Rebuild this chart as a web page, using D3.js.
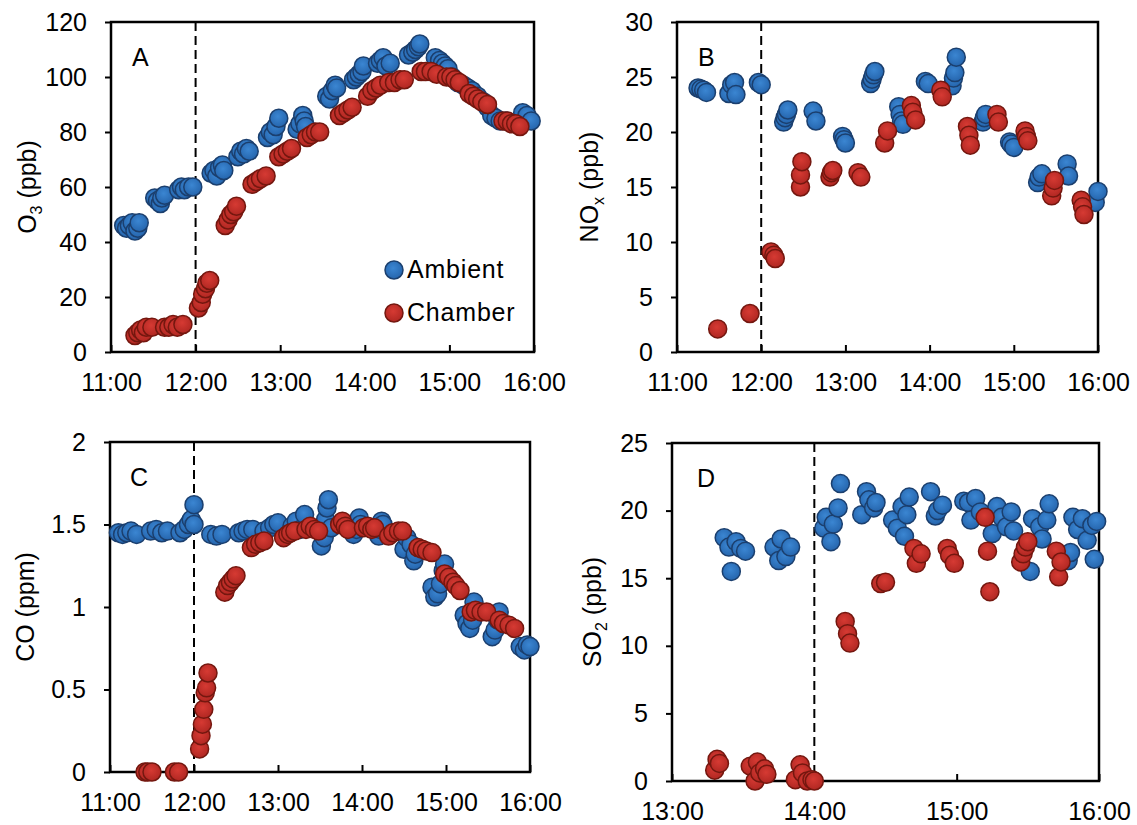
<!DOCTYPE html>
<html>
<head>
<meta charset="utf-8">
<script src="https://cdn.jsdelivr.net/npm/d3@7.9.0/dist/d3.min.js"></script>
<style>
  body { margin: 0; background: #fff; }
  svg { display: block; font-family: "Liberation Sans", Arial, sans-serif; }
</style>
</head>
<body>
<svg id="chart" width="1137" height="825"></svg>
<script>
// ---- data: [time, value] ----
const o3Ambient = [
  ["11:09",46],["11:11",45],["11:13",46],["11:15",47],["11:17",44],["11:19",45],["11:20",47],
  ["11:31",56],["11:33",55],["11:35",54],["11:36",56],["11:38",57],
  ["11:48",59],["11:50",60],["11:52",59],["11:55",60],["11:58",60],
  ["12:11",65],["12:13",66],["12:15",64],["12:17",67],["12:19",68],["12:20",66],
  ["12:30",71],["12:32",73],["12:34",72],["12:36",74],["12:38",73],
  ["12:51",78],["12:53",80],["12:55",79],["12:57",82],["12:59",85],
  ["13:12",81],["13:14",83],["13:16",86],["13:17",84],["13:18",82],
  ["13:33",93],["13:35",92],["13:37",95],["13:39",97],["13:40",96],
  ["13:52",99],["13:54",100],["13:56",101],["13:58",102],["13:59",104],
  ["14:09",105],["14:11",106],["14:13",107],["14:15",104],["14:18",105],
  ["14:31",108],["14:34",109],["14:36",110],["14:38",111],["14:39",112],
  ["14:50",107],["14:53",106],["14:55",105],["14:57",104],["14:59",103],
  ["15:02",100],["15:06",98],["15:10",97],["15:13",96],["15:16",95],["15:20",93],
  ["15:24",91],["15:27",89],["15:30",86],["15:33",85],["15:36",84],["15:40",84],
  ["15:52",87],["15:55",86],["15:58",84]
];
const o3Chamber = [
  ["11:17",6],["11:19",7],["11:21",8],["11:23",7],["11:25",9],["11:29",9],
  ["11:38",9],["11:41",9],["11:44",10],["11:47",9],["11:51",10],
  ["12:02",16],["12:04",18],["12:05",21],["12:07",23],["12:08",25],["12:10",26],
  ["12:21",46],["12:23",48],["12:25",50],["12:27",51],["12:29",53],
  ["12:40",61],["12:43",62],["12:46",63],["12:50",64],
  ["12:59",71],["13:02",72],["13:05",73],["13:08",74],
  ["13:19",78],["13:22",79],["13:25",80],["13:28",80],
  ["13:42",86],["13:45",87],["13:48",88],["13:51",89],
  ["14:02",93],["14:05",95],["14:08",96],["14:11",97],
  ["14:17",98],["14:21",98],["14:25",99],["14:28",99],
  ["14:40",102],["14:43",102],["14:47",102],["14:51",101],
  ["14:58",100],["15:01",100],["15:04",99],["15:07",98],
  ["15:14",94],["15:17",93],["15:20",92],["15:23",91],["15:27",90],
  ["15:38",84],["15:41",84],["15:44",83],["15:47",83],["15:50",82]
];
const noxAmbient = [
  ["11:15",24.0],["11:17",23.9],["11:19",23.8],["11:21",23.6],
  ["11:37",23.5],["11:39",24.3],["11:41",24.5],["11:42",23.4],
  ["11:58",24.5],["12:00",24.3],
  ["12:16",20.9],["12:17",21.3],["12:18",21.6],["12:19",22.0],
  ["12:37",21.9],["12:39",21.0],
  ["12:58",19.6],["12:59",19.3],["13:00",19.0],
  ["13:18",24.4],["13:19",24.8],["13:20",25.2],["13:21",25.5],
  ["13:38",22.3],["13:39",21.6],["13:40",21.0],["13:41",20.7],
  ["13:57",24.6],["13:59",24.4],
  ["14:16",24.2],["14:17",24.9],["14:18",25.4],["14:19",26.8],
  ["14:38",20.9],["14:39",21.3],["14:40",21.6],
  ["14:57",19.1],["14:58",18.9],["15:00",18.6],
  ["15:17",15.4],["15:18",15.9],["15:20",16.2],
  ["15:38",17.1],["15:39",16.0],
  ["15:58",13.6],["16:00",14.6]
];
const noxChamber = [
  ["11:29",2.1],["11:52",3.5],
  ["12:07",9.1],["12:09",8.8],["12:10",8.5],
  ["12:28",15.0],["12:28",16.1],["12:29",17.3],
  ["12:49",15.9],["12:50",16.3],["12:51",16.5],
  ["13:09",16.3],["13:11",15.9],
  ["13:28",19.0],["13:30",20.1],
  ["13:47",22.4],["13:48",21.8],["13:50",21.1],
  ["14:08",23.8],["14:09",23.2],
  ["14:27",20.5],["14:28",19.7],["14:29",18.8],
  ["14:48",21.6],["14:49",20.9],
  ["15:08",20.1],["15:09",19.6],["15:10",19.2],
  ["15:27",14.2],["15:28",14.9],["15:29",15.6],
  ["15:48",13.8],["15:49",13.2],["15:50",12.5]
];
const coAmbient = [
  ["11:06",1.45],["11:09",1.44],["11:12",1.45],["11:15",1.46],["11:19",1.44],
  ["11:29",1.46],["11:33",1.47],["11:37",1.45],["11:41",1.46],
  ["11:50",1.45],["11:53",1.47],["11:56",1.50],["11:58",1.53],["12:00",1.62],["12:00",1.50],
  ["12:12",1.44],["12:16",1.43],["12:20",1.44],
  ["12:32",1.45],["12:35",1.46],["12:38",1.47],["12:42",1.47],
  ["12:50",1.46],["12:54",1.48],["12:57",1.50],["13:00",1.51],
  ["13:10",1.49],["13:13",1.52],["13:16",1.47],["13:19",1.56],
  ["13:31",1.37],["13:33",1.42],["13:34",1.53],["13:35",1.60],["13:36",1.65],["13:38",1.48],
  ["13:54",1.44],["13:56",1.47],["13:58",1.54],["13:59",1.50],
  ["14:12",1.43],["14:13",1.47],["14:14",1.52],["14:15",1.50],
  ["14:30",1.35],["14:32",1.42],["14:35",1.38],["14:37",1.28],["14:38",1.32],
  ["14:50",1.12],["14:52",1.06],["14:54",1.08],["14:56",1.14],["14:58",1.22],["14:59",1.26],
  ["15:13",0.95],["15:15",0.90],["15:17",0.87],["15:19",0.92],["15:20",1.03],
  ["15:33",0.82],["15:35",0.86],["15:37",0.92],["15:38",0.97],
  ["15:53",0.76],["15:56",0.74],["15:58",0.77],["16:00",0.76]
];
const coChamber = [
  ["11:25",0],["11:27",0],["11:30",0],
  ["11:46",0],["11:49",0],
  ["12:04",0.14],["12:05",0.22],["12:06",0.29],["12:07",0.38],["12:08",0.48],["12:09",0.51],["12:10",0.60],
  ["12:22",1.09],["12:24",1.13],["12:26",1.15],["12:28",1.17],["12:30",1.19],
  ["12:41",1.36],["12:44",1.38],["12:47",1.39],["12:50",1.40],
  ["13:04",1.42],["13:07",1.44],["13:09",1.45],["13:12",1.46],
  ["13:20",1.47],["13:23",1.49],["13:26",1.47],["13:29",1.46],
  ["13:44",1.50],["13:46",1.52],["13:48",1.49],["13:50",1.47],
  ["14:01",1.48],["14:04",1.49],["14:07",1.47],["14:09",1.48],
  ["14:19",1.43],["14:22",1.45],["14:26",1.46],["14:29",1.46],
  ["14:40",1.36],["14:43",1.35],["14:46",1.34],["14:50",1.33],
  ["14:59",1.20],["15:02",1.18],["15:05",1.15],["15:07",1.13],["15:10",1.10],
  ["15:18",0.97],["15:21",0.98],["15:25",0.97],["15:29",0.97],
  ["15:38",0.92],["15:41",0.90],["15:45",0.89],["15:49",0.87]
];
const so2Ambient = [
  ["13:22",18.0],["13:24",17.3],["13:25",15.5],["13:27",17.7],["13:29",17.2],["13:31",17.0],
  ["13:43",17.3],["13:45",16.3],["13:46",17.9],["13:48",16.6],["13:50",17.3],
  ["14:04",18.7],["14:05",19.5],["14:07",17.7],["14:08",19.0],["14:10",20.2],["14:11",22.0],
  ["14:20",19.7],["14:22",21.4],["14:23",20.8],["14:25",20.2],["14:26",20.6],
  ["14:33",19.3],["14:35",18.7],["14:37",20.3],["14:38",18.1],["14:39",19.7],["14:40",21.0],
  ["14:49",21.4],["14:51",19.6],["14:52",20.0],["14:54",20.4],
  ["15:03",20.7],["15:05",20.6],["15:06",19.3],["15:08",20.9],["15:10",19.9],
  ["15:15",18.3],["15:17",20.3],["15:19",19.5],["15:21",18.8],["15:23",19.9],["15:24",18.5],
  ["15:31",15.5],["15:32",19.4],["15:35",18.8],["15:36",17.9],["15:38",19.3],["15:39",20.5],
  ["15:47",16.3],["15:48",16.9],["15:49",19.5],["15:51",18.6],["15:53",19.4],["15:55",17.8],
  ["15:57",18.9],["15:58",16.4],["15:59",19.2]
];
const so2Chamber = [
  ["13:18",0.8],["13:19",1.6],["13:20",1.3],
  ["13:33",1.1],["13:35",0.0],["13:36",1.4],["13:37",0.6],["13:39",0.9],["13:40",0.5],
  ["13:52",0.1],["13:54",1.2],["13:55",0.6],["13:57",0.0],["13:59",0.1],["14:00",0.0],
  ["14:13",11.8],["14:14",10.9],["14:15",10.2],
  ["14:28",14.6],["14:30",14.7],
  ["14:42",17.2],["14:43",16.1],["14:45",16.8],
  ["14:56",17.2],["14:57",16.7],["14:59",16.1],
  ["15:12",19.5],["15:13",17.0],["15:14",14.0],
  ["15:27",16.2],["15:28",16.8],["15:29",17.3],["15:30",17.7],
  ["15:42",17.0],["15:43",15.1],["15:44",16.2]
];

const o3Ticks = [0, 20, 40, 60, 80, 100, 120];
const noxTicks = [0, 5, 10, 15, 20, 25, 30];
const coTicks = [0, 0.5, 1, 1.5, 2];
const so2Ticks = [0, 5, 10, 15, 20, 25];
const seriesNames = ["Ambient", "Chamber"];

const parseT = d3.timeParse("%H:%M");
const fmtT = d3.timeFormat("%H:%M");

const svg = d3.select("#chart");
const FS = 25;

// slightly shaded markers, like the excel ones
const defs = svg.append("defs");
function grad(id, c0, c1) {
  const rg = defs.append("radialGradient").attr("id", id).attr("cx", "45%").attr("cy", "40%").attr("r", "60%");
  rg.append("stop").attr("offset", "0%").attr("stop-color", c0);
  rg.append("stop").attr("offset", "100%").attr("stop-color", c1);
}
grad("gBlue", "#3b86d2", "#2565ad");
grad("gRed", "#d63a33", "#b02722");
const blue = { fill: "url(#gBlue)", stroke: "#1b3f6e" };
const red = { fill: "url(#gRed)", stroke: "#74170f" };

function drawPanel(p) {
  const g = svg.append("g");
  const x = d3.scaleTime().domain([parseT(p.t0), parseT(p.t1)]).range([p.left, p.right]);
  const y = d3.scaleLinear().domain([0, d3.max(p.yTicks)]).range([p.bottom, p.top]);

  // y axis: ticks outward
  const yAx = g.append("g").attr("transform", `translate(${p.left},0)`)
    .call(d3.axisLeft(y).tickValues(p.yTicks).tickSize(6).tickPadding(18).tickFormat(d3.format("")));
  yAx.select(".domain").remove();
  yAx.selectAll("line").attr("stroke", "#000").attr("stroke-width", 2);
  yAx.selectAll("text").attr("font-size", FS).attr("fill", "#000").attr("font-family", "Liberation Sans, Arial");

  // x axis: ticks inward
  const xTicks = d3.timeHour.range(parseT(p.t0), d3.timeMinute.offset(parseT(p.t1), 1));
  const xAx = g.append("g").attr("transform", `translate(0,${p.bottom})`)
    .call(d3.axisBottom(x).tickValues(xTicks).tickSize(-7).tickPadding(21).tickFormat(fmtT));
  xAx.select(".domain").remove();
  xAx.selectAll("line").attr("stroke", "#000").attr("stroke-width", 2);
  xAx.selectAll("text").attr("font-size", FS).attr("fill", "#000").attr("font-family", "Liberation Sans, Arial");

  // frame
  g.append("rect").attr("x", p.left).attr("y", p.top)
    .attr("width", p.right - p.left).attr("height", p.bottom - p.top)
    .attr("fill", "none").attr("stroke", "#000").attr("stroke-width", 2.5);

  // dashed start line
  g.append("line").attr("x1", x(parseT(p.mark))).attr("x2", x(parseT(p.mark)))
    .attr("y1", p.top).attr("y2", p.bottom)
    .attr("stroke", "#000").attr("stroke-width", 2).attr("stroke-dasharray", "9,5");

  // y label with subscript
  const lab = g.append("text")
    .attr("transform", `translate(${p.left - p.labOff},${(p.top + p.bottom) / 2}) rotate(-90)`)
    .attr("text-anchor", "middle").attr("font-size", FS).attr("fill", "#000");
  lab.append("tspan").text(p.label[0]);
  if (p.label[1]) {
    lab.append("tspan").attr("dy", 6).attr("font-size", 16).text(p.label[1]);
    lab.append("tspan").attr("dy", -6).text(p.label[2]);
  } else {
    lab.append("tspan").text(p.label[2]);
  }

  // panel letter
  g.append("text").attr("x", p.left + p.letOff).attr("y", p.top + 44)
    .attr("font-size", FS).attr("fill", "#000").text(p.letter);

  // points: ambient first, chamber on top
  [[p.amb, blue], [p.cham, red]].forEach(([data, c]) => {
    g.append("g").selectAll("circle").data(data).join("circle")
      .attr("cx", d => x(parseT(d[0])))
      .attr("cy", d => y(d[1]))
      .attr("r", 9)
      .attr("fill", c.fill).attr("stroke", c.stroke).attr("stroke-width", 1.5);
  });

  return g;
}

const gA = drawPanel({ left: 111, right: 534, top: 22, bottom: 352, t0: "11:00", t1: "16:00", mark: "12:00",
  yTicks: o3Ticks, label: ["O", "3", " (ppb)"], labOff: 75, letter: "A", letOff: 21, amb: o3Ambient, cham: o3Chamber });
drawPanel({ left: 677, right: 1098, top: 22, bottom: 352, t0: "11:00", t1: "16:00", mark: "12:00",
  yTicks: noxTicks, label: ["NO", "x", " (ppb)"], labOff: 79, letter: "B", letOff: 21, amb: noxAmbient, cham: noxChamber });
drawPanel({ left: 110, right: 530, top: 442, bottom: 772, t0: "11:00", t1: "16:00", mark: "12:00",
  yTicks: coTicks, label: ["CO (ppm)", null, ""], labOff: 76, letter: "C", letOff: 20, amb: coAmbient, cham: coChamber });
drawPanel({ left: 672, right: 1099, top: 443, bottom: 781, t0: "13:00", t1: "16:00", mark: "14:00",
  yTicks: so2Ticks, label: ["SO", "2", " (ppb)"], labOff: 71, letter: "D", letOff: 25, amb: so2Ambient, cham: so2Chamber });

// legend in panel A
const leg = gA.append("g");
seriesNames.forEach((name, i) => {
  const c = i === 0 ? blue : red;
  const cy = 270 + i * 43;
  leg.append("circle").attr("cx", 394).attr("cy", cy).attr("r", 9)
    .attr("fill", c.fill).attr("stroke", c.stroke).attr("stroke-width", 1.5);
  leg.append("text").attr("x", 407).attr("y", cy + 8).attr("font-size", FS)
    .attr("letter-spacing", 0.8).attr("fill", "#000").text(name);
});
</script>
</body>
</html>
